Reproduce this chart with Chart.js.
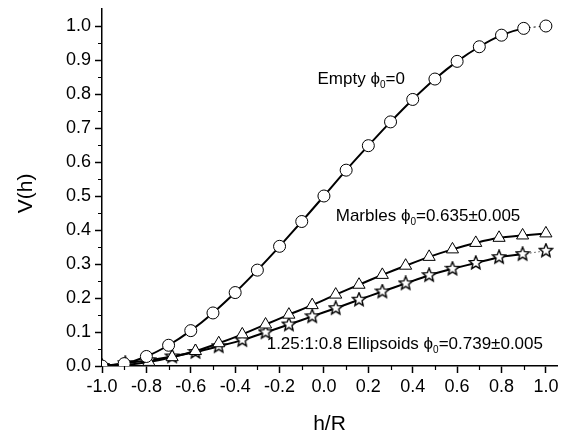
<!DOCTYPE html>
<html><head><meta charset="utf-8">
<script src="https://cdn.jsdelivr.net/npm/chart.js@4"></script>
<style>html,body{margin:0;padding:0;background:#fff}</style>
</head><body>
<canvas id="c" width="571" height="440" style="display:block;width:571px;height:440px"></canvas>
<script>
// ---- data ----
const emptyX = [-1.0,-0.9,-0.8,-0.7,-0.6,-0.5,-0.4,-0.3,-0.2,-0.1,0.0,0.1,0.2,0.3,0.4,0.5,0.6,0.7,0.8,0.9,1.0];
const emptyV = [0,0.007,0.028,0.061,0.104,0.156,0.216,0.282,0.352,0.425,0.5,0.576,0.648,0.718,0.784,0.844,0.896,0.939,0.973,0.993,1.0];
const grainX = [-1.0,-0.895,-0.789,-0.684,-0.579,-0.474,-0.368,-0.263,-0.158,-0.053,0.053,0.158,0.263,0.368,0.474,0.579,0.684,0.789,0.895,1.0];
const marblesV = [0,0.003,0.012,0.026,0.044,0.067,0.093,0.122,0.151,0.179,0.21,0.239,0.268,0.295,0.321,0.343,0.362,0.377,0.384,0.39];
const ellipsoidsV = [0,0.008,0.017,0.028,0.041,0.058,0.076,0.099,0.122,0.146,0.17,0.195,0.219,0.243,0.267,0.286,0.303,0.32,0.329,0.339];
const xTickValues = [-1.0,-0.8,-0.6,-0.4,-0.2,0.0,0.2,0.4,0.6,0.8,1.0];
const yTickValues = [0.0,0.1,0.2,0.3,0.4,0.5,0.6,0.7,0.8,0.9,1.0];
const xMinorTicks = [-0.9,-0.7,-0.5,-0.3,-0.1,0.1,0.3,0.5,0.7,0.9];
const yMinorTicks = [0.05,0.15,0.25,0.35,0.45,0.55,0.65,0.75,0.85,0.95];
const annotationTexts = [
  {pre:'Empty \u03D5', sub:'0', post:'=0'},
  {pre:'Marbles \u03D5', sub:'0', post:'=0.635\u00B10.005'},
  {pre:'1.25:1:0.8 Ellipsoids \u03D5', sub:'0', post:'=0.739\u00B10.005'}
];
const annotationAnchors = [[-0.029,0.828],[0.053,0.427],[-0.258,0.049]];

// ---- styling helpers ----
const FONT = 'Liberation Sans, Arial, sans-serif';
function makeStar(r){
  const s = 2*Math.ceil(r+1);
  const c = document.createElement('canvas'); c.width = s; c.height = s;
  const g = c.getContext('2d'); g.translate(s/2, s/2);
  g.beginPath();
  for (let i=0;i<10;i++){
    const rr = i%2 ? r*0.45 : r;
    const a = -Math.PI/2 + i*Math.PI/5;
    g.lineTo(rr*Math.cos(a), rr*Math.sin(a));
  }
  g.closePath(); g.fillStyle='#fff'; g.fill();
  g.lineWidth=1.4; g.lineJoin='miter'; g.strokeStyle='#000'; g.stroke();
  return c;
}
const starImg = makeStar(7);
const toPts = (xs, vs) => xs.map((x,i)=>({x:x, y:vs[i]}));
const lastSeg = (n, a, b) => (ctx) => ctx.p1DataIndex === n-1 ? a : b;

const minorTicks = {
  id:'minorTicks',
  afterDraw(chart){
    const {ctx, scales:{x, y}, chartArea:a} = chart;
    ctx.save(); ctx.strokeStyle='#000'; ctx.lineWidth=1.2;
    ctx.beginPath();
    xMinorTicks.forEach(v=>{const p=Math.round(x.getPixelForValue(v))+0.5; ctx.moveTo(p,a.bottom); ctx.lineTo(p,a.bottom+4);});
    yMinorTicks.forEach(v=>{const p=Math.round(y.getPixelForValue(v))+0.5; ctx.moveTo(a.left,p); ctx.lineTo(a.left-4,p);});
    ctx.stroke(); ctx.restore();
  }
};
const annotations = {
  id:'annotations',
  afterDatasetsDraw(chart){
    const {ctx, scales:{x, y}} = chart;
    ctx.save(); ctx.fillStyle='#000'; ctx.textBaseline='alphabetic'; ctx.textAlign='left';
    annotationTexts.forEach((t,i)=>{
      let px = x.getPixelForValue(annotationAnchors[i][0]);
      const py = y.getPixelForValue(annotationAnchors[i][1]);
      ctx.font = '17px ' + FONT; ctx.fillText(t.pre, px, py); px += ctx.measureText(t.pre).width;
      ctx.font = '10px ' + FONT; ctx.fillText(t.sub, px, py+4); px += ctx.measureText(t.sub).width;
      ctx.font = '17px ' + FONT; ctx.fillText(t.post, px, py);
    });
    ctx.restore();
  }
};

const axisCommon = {
  type:'linear',
  border:{display:true, color:'#000', width:1.5},
  grid:{display:true, drawOnChartArea:false, drawTicks:true, tickLength:7, tickColor:'#000', tickWidth:1.5, color:'#000'},
};

new Chart(document.getElementById('c'), {
  type:'scatter',
  data:{datasets:[
    {label:'Empty', data:toPts(emptyX, emptyV), showLine:true, borderColor:'#000', borderWidth:2, tension:0.2,
     pointStyle:'circle', pointRadius:6, pointBackgroundColor:'#fff', pointBorderColor:'#000', pointBorderWidth:1,
     segment:{borderDash:lastSeg(emptyX.length,[2,3],undefined), borderWidth:lastSeg(emptyX.length,1,undefined)}},
    {label:'Marbles', data:toPts(grainX, marblesV), showLine:true, borderColor:'#000', borderWidth:2, tension:0.2,
     pointStyle:'triangle', pointRadius:7, pointBackgroundColor:'#fff', pointBorderColor:'#000', pointBorderWidth:1},
    {label:'Ellipsoids', data:toPts(grainX, ellipsoidsV), showLine:true, borderColor:'#000', borderWidth:2, tension:0.2,
     pointStyle:starImg, pointRadius:7, pointBackgroundColor:'#fff', pointBorderColor:'#000',
     segment:{borderDash:lastSeg(grainX.length,[1,3],undefined), borderWidth:lastSeg(grainX.length,1,undefined)}}
  ]},
  options:{
    responsive:false, animation:false, devicePixelRatio:1,
    layout:{padding:{top:2, right:14, left:0, bottom:0}},
    plugins:{legend:{display:false}, tooltip:{enabled:false}},
    scales:{
      x:Object.assign({}, axisCommon, {
        min:-1, max:1.05,
        afterBuildTicks:s=>{s.ticks = xTickValues.map(v=>({value:v}));},
        afterFit:s=>{s.height=74; s.paddingLeft=0; s.paddingRight=0;},
        ticks:{color:'#000', font:{family:FONT, size:18}, padding:3, maxRotation:0, autoSkip:false, callback:v=>Number(v).toFixed(1)},
        title:{display:true, text:'h/R', color:'#000', font:{family:FONT, size:21}, padding:{top:0, bottom:3}}
      }),
      y:Object.assign({}, axisCommon, {
        min:0, max:1.05,
        afterBuildTicks:s=>{s.ticks = yTickValues.map(v=>({value:v}));},
        afterFit:s=>{s.width=102; s.paddingTop=0; s.paddingBottom=0;},
        ticks:{color:'#000', font:{family:FONT, size:18}, padding:4, autoSkip:false, callback:v=>Number(v).toFixed(1)},
        title:{display:true, text:'V(h)\u00a0\u00a0', color:'#000', font:{family:FONT, size:21}, padding:{top:14, bottom:0}}
      })
    }
  },
  plugins:[minorTicks, annotations]
});
</script>
</body></html>
